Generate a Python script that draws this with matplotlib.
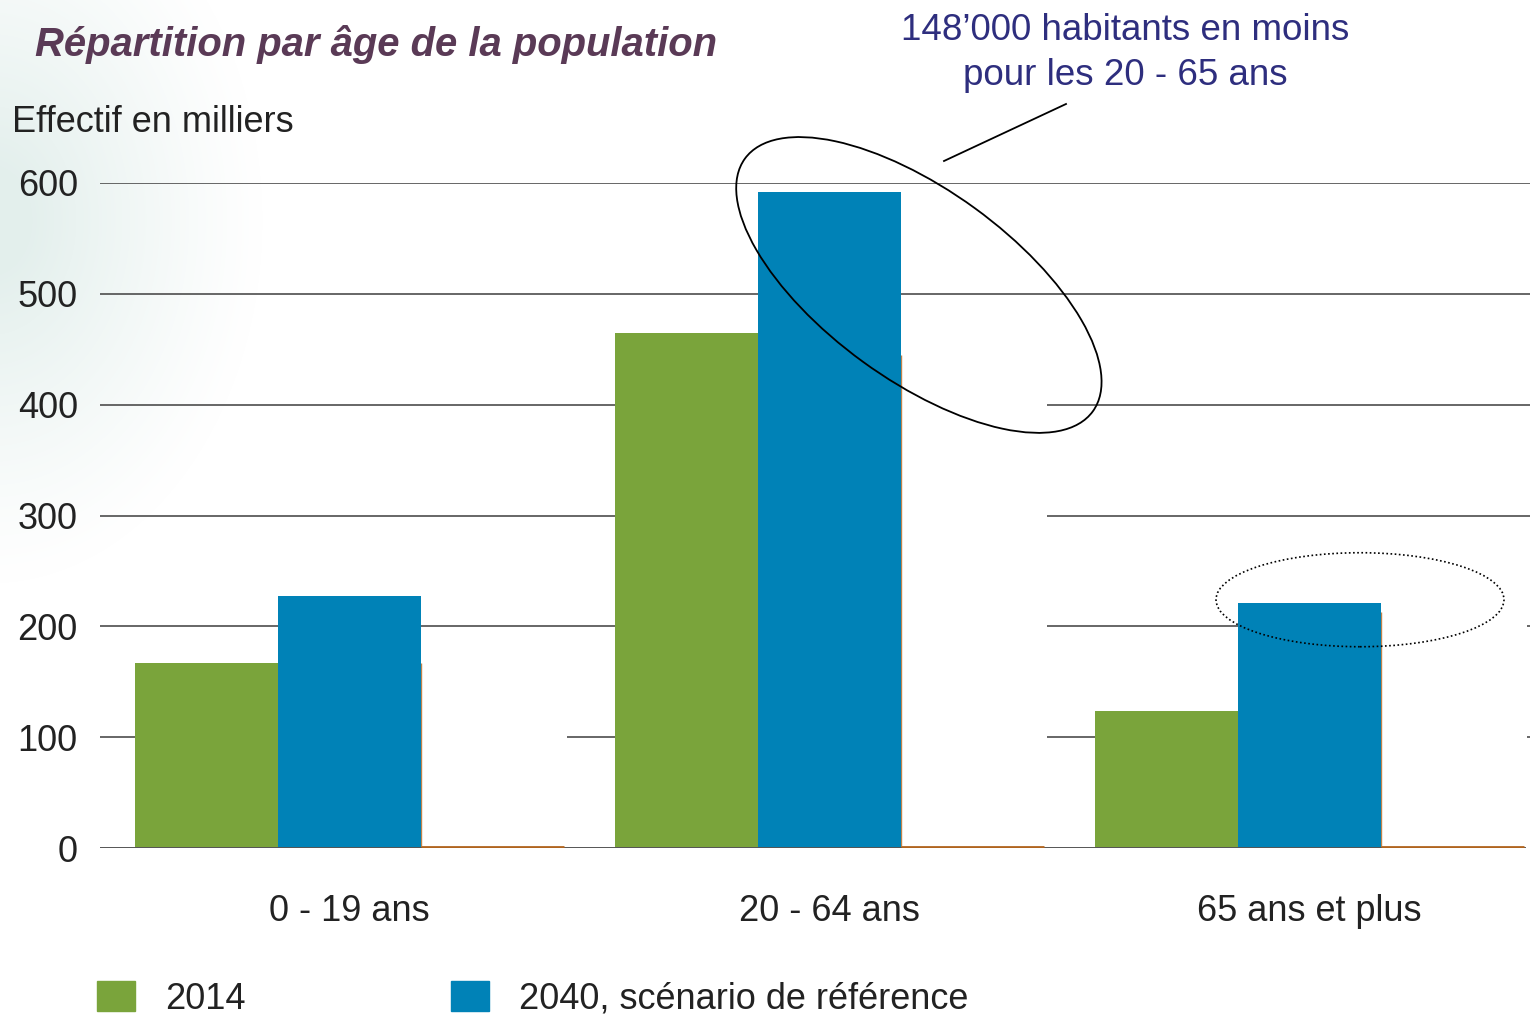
import numpy as np
import matplotlib
matplotlib.use("Agg")
import matplotlib.pyplot as plt
from matplotlib.patches import Ellipse, Patch
from matplotlib.transforms import ScaledTranslation

# donnees (en milliers)
categories = ["0 - 19 ans", "20 - 64 ans", "65 ans et plus"]
valeurs_2014 = [167, 465, 124]
valeurs_2040 = [227, 592, 221]
serie_cachee = [168, 445, 215]   # troisieme serie masquee en blanc
graduations = [0, 100, 200, 300, 400, 500, 600]

vert = "#7aa43b"
bleu = "#0082b7"
orange = "#b0641e"
police = "Liberation Sans"
taille = 26

fig = plt.figure(figsize=(15.31, 10.16), dpi=100)

# fond degrade en haut a gauche
fond = fig.add_axes([0, 0, 1, 1], zorder=-10)
yy, xx = np.mgrid[0:1016, 0:1531]
d = np.sqrt(((xx + 10) / 240.0) ** 2 + ((yy - 220) / 320.0) ** 2)
a = np.clip(1.15 - d, 0, 1) ** 1.2 * 0.55
img = np.ones((1016, 1531, 4))
img[..., 0] = 0.80
img[..., 1] = 0.89
img[..., 2] = 0.87
img[..., 3] = a
fond.imshow(img, aspect="auto", interpolation="bilinear")
fond.axis("off")

ax = fig.add_axes([100 / 1531, (1016 - 848) / 1016, 1430 / 1531, 665 / 1016])
ax.patch.set_alpha(0)

x = np.arange(len(categories))
w = 0.298
xmin = -0.371

for g in graduations[1:]:
    ax.axhline(g, color="#4d4d4d", lw=1.2, zorder=1)
ax.axhline(0, color="#555555", lw=1.4, zorder=4, xmax=0.9965)

ax.bar(x + w, serie_cachee, w * 1.02, color="white", align="edge", zorder=2)
ax.hlines([1] * 3, x + w, x + 2 * w, color=orange, lw=2, zorder=5)
ax.vlines(x + w, 0, [167, 445, 213], color=orange, lw=1, zorder=2.5, alpha=0.8)

ax.bar(x - w, valeurs_2014, w, color=vert, align="edge", zorder=3)
ax.bar(x, valeurs_2040, w, color=bleu, align="edge", zorder=3)

ax.set_xlim(xmin, xmin + 1430 / 480)
ax.set_ylim(0, 600)
ax.set_yticks(graduations)
ax.set_yticklabels([str(g) for g in graduations])
ax.set_xticks(x + w / 2)
ax.set_xticklabels(categories)
ax.tick_params(length=0, labelsize=taille, colors="#222222")
ax.tick_params(axis="y", pad=16)
ax.tick_params(axis="x", pad=33)
for lab in ax.get_xticklabels() + ax.get_yticklabels():
    lab.set_fontfamily(police)
for s in ax.spines.values():
    s.set_visible(False)

# ellipses d'annotation
tr = fig.dpi_scale_trans + ScaledTranslation(1.335, 508, ax.transData)
ax.add_patch(Ellipse((0, 0), 4.30, 1.90, angle=-36, transform=tr,
                     fill=False, ec="black", lw=1.3, zorder=6, clip_on=False))
tr2 = fig.dpi_scale_trans + ScaledTranslation(2.254, 224, ax.transData)
ax.add_patch(Ellipse((0, 0), 2.88, 0.94, angle=0, transform=tr2,
                     fill=False, ec="black", lw=1.2, ls=(0, (1, 1.5)),
                     zorder=6, clip_on=False))

fig.add_artist(plt.Line2D([1066 / 1531, 944 / 1531],
                          [1 - 104 / 1016, 1 - 161 / 1016],
                          color="black", lw=1.3))

fig.text(1125 / 1531, 1 - 53 / 1016, "148’000 habitants en moins\npour les 20 - 65 ans",
         ha="center", va="center", fontsize=26.5, color="#2e2e7e",
         family=police, linespacing=1.36)

fig.text(35 / 1531, 1 - 45 / 1016, "Répartition par âge de la population",
         ha="left", va="center", fontsize=28.8, color="#5a3a56",
         family=police, weight="bold", style="italic")

fig.text(12 / 1531, 1 - 122 / 1016, "Effectif en milliers", ha="left", va="center",
         fontsize=taille, color="#222222", family=police)

poignees = [Patch(color=vert, label="2014"),
            Patch(color=bleu, label="2040, scénario de référence")]
fig.legend(handles=poignees, loc="center left", bbox_to_anchor=(97 / 1531, 1 - 999 / 1016),
           ncol=2, frameon=False, prop={"family": police, "size": taille},
           handlelength=1.05, handleheight=0.9, handletextpad=0.83,
           columnspacing=5.7, borderpad=0, borderaxespad=0, labelcolor="#222222")

fig.savefig("out.png", dpi=100)
